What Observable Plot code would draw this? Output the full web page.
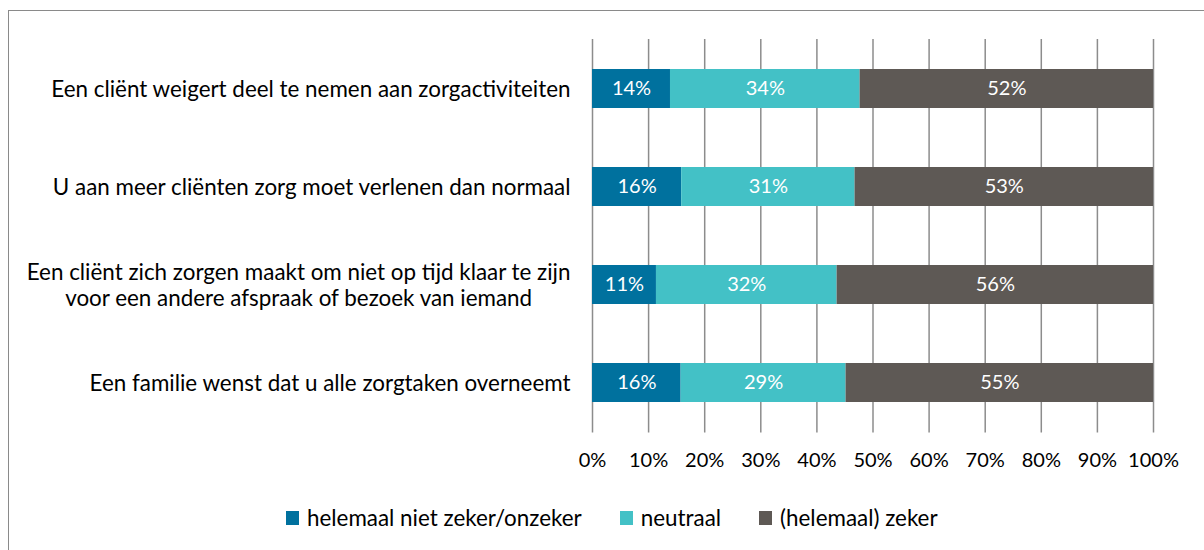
<!DOCTYPE html>
<html><head><meta charset="utf-8">
<script src="https://cdn.jsdelivr.net/npm/d3@7"></script>
<script src="https://cdn.jsdelivr.net/npm/@observablehq/plot@0.6"></script>
<style>
body{margin:0;background:#fff;font-family:Lato,sans-serif;overflow:hidden;}
#frame{position:absolute;left:8px;top:10px;width:1300px;height:700px;border:1px solid #8a8a8a;box-sizing:border-box;}
#chart{position:absolute;left:0;top:0;}
#legend{position:absolute;left:286px;top:505px;display:flex;align-items:center;font-size:22.4px;line-height:26px;color:#000;white-space:nowrap;}
#legend .item{display:flex;align-items:center;margin-right:38px;}
#legend .sw{width:13px;height:14px;margin-right:8px;}
</style></head>
<body>
<div id="frame"></div>
<div id="chart"></div>
<div id="legend"></div>
<script>
const categories = [
  "Een cliënt weigert deel te nemen aan zorgactiviteiten",
  "U aan meer cliënten zorg moet verlenen dan normaal",
  "Een cliënt zich zorgen maakt om niet op tijd klaar te zijn\nvoor een andere afspraak of bezoek van iemand",
  "Een familie wenst dat u alle zorgtaken overneemt"
];
const seriesNames = ["helemaal niet zeker/onzeker", "neutraal", "(helemaal) zeker"];
const onzeker  = [13.9, 15.9, 11.4, 15.8];
const neutraal = [33.8, 30.9, 32.2, 29.4];
const zeker    = [52.3, 53.2, 56.4, 54.8];
const xTicks = [0, 10, 20, 30, 40, 50, 60, 70, 80, 90, 100];
const colors = ["#00719e", "#43c1c6", "#5e5955"];

const seriesValues = [onzeker, neutraal, zeker];
const table = categories.flatMap((c, i) =>
  seriesValues.map((arr, j) => ({category: c, series: seriesNames[j], value: arr[i]})));

const fmt = d3.format(".0f");
const chart = Plot.plot({
  width: 1204,
  height: 480,
  marginLeft: 592,
  marginRight: 51,
  marginTop: 39,
  marginBottom: 47.5,
  style: {fontFamily: "Lato, sans-serif", fontSize: "20px", color: "#000", background: "transparent"},
  x: {domain: [0, 100], label: null},
  y: {domain: categories, paddingInner: 0.6, paddingOuter: 0.3, label: null},
  color: {domain: seriesNames, range: colors},
  marks: [
    Plot.gridX(xTicks, {stroke: "#8c8c8c", strokeOpacity: 1, strokeWidth: 1.5}),
    Plot.barX(table, Plot.stackX({x: "value", y: "category", fill: "series"})),
    Plot.text(table, Plot.stackX({x: "value", y: "category", text: d => fmt(d.value) + "%", fill: "white", fontSize: 20})),
    Plot.axisX({ticks: xTicks, tickFormat: d => d + "%", tickSize: 0, tickPadding: 20, fill: "#000"}),
    Plot.axisY({tickSize: 0, tickPadding: 22, fill: "#000", fontSize: 22.4, lineHeight: 1.15})
  ]
});
document.getElementById("chart").appendChild(chart);

// center multi-line category labels (as in the original)
chart.querySelectorAll("text").forEach(t => {
  const spans = t.querySelectorAll("tspan");
  if (spans.length > 1) {
    let w = 0;
    spans.forEach(s => { w = Math.max(w, s.getComputedTextLength()); });
    t.setAttribute("text-anchor", "middle");
    spans.forEach(s => s.setAttribute("x", -w / 2));
  }
});

const legend = d3.select("#legend");
seriesNames.forEach((name, j) => {
  const it = legend.append("div").attr("class", "item");
  it.append("div").attr("class", "sw").style("background", colors[j]);
  it.append("span").text(name);
});
</script>
</body></html>
